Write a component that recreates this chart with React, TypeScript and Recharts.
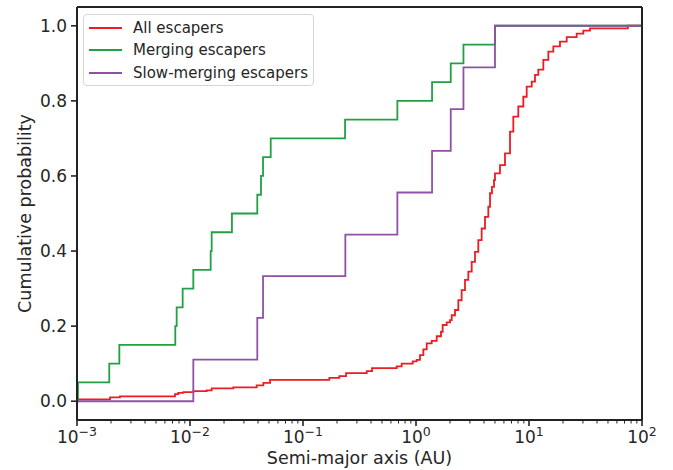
import React from "react";
import { LineChart, Line, XAxis, YAxis, Legend } from "recharts";

// semi-major axis (AU) at each step, and cumulative probability after it
const allA = [
  0.001, 0.00196, 0.0024, 0.00736, 0.00787, 0.00873, 0.0107, 0.01406, 0.01556, 0.02415,
  0.0389, 0.0446, 0.0511, 0.171, 0.2096, 0.2404, 0.3664, 0.4083, 0.6749, 0.7468,
  0.935, 1.014, 1.085, 1.161, 1.244, 1.377, 1.525, 1.664, 1.722, 1.869,
  2.0, 2.07, 2.214, 2.368, 2.535, 2.714, 2.904, 3.111, 3.327, 3.559,
  3.811, 4.08, 4.365, 4.519, 4.7, 4.9, 5.0, 5.535, 6.131, 6.792,
  7.263, 8.04, 8.905, 9.54, 10.57, 11.3, 12.09, 13.39, 14.83, 16.42,
  18.8, 21.56, 26.43, 30.25, 34.67, 75, 100,
];
const allP = [
  0.005, 0.01, 0.013, 0.019, 0.022, 0.024, 0.027, 0.029, 0.034, 0.037,
  0.042, 0.049, 0.057, 0.062, 0.067, 0.075, 0.08, 0.088, 0.093, 0.1,
  0.106, 0.11, 0.123, 0.138, 0.154, 0.161, 0.173, 0.185, 0.203, 0.21,
  0.216, 0.229, 0.243, 0.269, 0.296, 0.323, 0.345, 0.371, 0.398, 0.429,
  0.46, 0.491, 0.518, 0.554, 0.571, 0.589, 0.607, 0.629, 0.66, 0.718,
  0.758, 0.785, 0.811, 0.838, 0.851, 0.869, 0.883, 0.909, 0.931, 0.945,
  0.958, 0.97, 0.979, 0.987, 0.993, 1.0, 1.0,
];

const mergingA = [
  0.001, 0.00102, 0.00193, 0.00237, 0.00741, 0.00762, 0.00861, 0.0107, 0.01524, 0.01555,
  0.0235, 0.0394, 0.0425, 0.0443, 0.0518, 0.2356, 0.684, 1.387, 2.03, 2.63, 5.0, 100,
];
const mergingP = [
  0, 0.05, 0.1, 0.15, 0.2, 0.25, 0.3, 0.35, 0.4, 0.45,
  0.5, 0.55, 0.6, 0.65, 0.7, 0.75, 0.8, 0.85, 0.9, 0.95, 1.0, 1.0,
];

const slowA = [0.001, 0.0107, 0.0394, 0.0443, 0.237, 0.684, 1.387, 2.03, 2.63, 5.0, 100];
const slowP = [0, 0.111, 0.222, 0.333, 0.444, 0.556, 0.667, 0.778, 0.889, 1.0, 1.0];

const majorTicks = [0.001, 0.01, 0.1, 1, 10, 100];
const minorMult = [2, 3, 4, 5, 6, 7, 8, 9];
const yTicks = [0, 0.2, 0.4, 0.6, 0.8, 1.0];

const FONT = "'DejaVu Sans', sans-serif";
const INK = "#262626";

const toRows = (xs: number[], ps: number[]) => xs.map((a, i) => ({ a, p: ps[i] }));
const allData = toRows(allA, allP);
const mergingData = toRows(mergingA, mergingP);
const slowData = toRows(slowA, slowP);

const xTicks = [
  ...majorTicks,
  ...majorTicks.slice(0, -1).flatMap((d) => minorMult.map((m) => m * d)),
].sort((a, b) => a - b);

const XTick = (props: any) => {
  const { x, y, payload } = props;
  const lg = Math.log10(payload.value);
  const exp = Math.round(lg);
  const major = Math.abs(lg - exp) < 1e-6;
  if (!major) {
    return <line x1={x} x2={x} y1={y} y2={y + 3.5} stroke="#222" strokeWidth={1} />;
  }
  return (
    <g>
      <line x1={x} x2={x} y1={y} y2={y + 6} stroke="#222" strokeWidth={1.6} />
      <text x={x} y={y + 23} textAnchor="middle" fill={INK} fontFamily={FONT} fontSize={17}>
        <tspan>10</tspan>
        <tspan dy={-7} fontSize={12.5}>{exp < 0 ? "\u2212" + -exp : String(exp)}</tspan>
      </text>
    </g>
  );
};

const XLabel = ({ viewBox }: any) => (
  <text
    x={viewBox.x + viewBox.width / 2}
    y={viewBox.y + 44}
    textAnchor="middle"
    fill={INK}
    fontFamily={FONT}
    fontSize={17.5}
  >
    Semi-major axis (AU)
  </text>
);

const YLabel = ({ viewBox }: any) => {
  const cx = viewBox.x + 25;
  const cy = viewBox.y + viewBox.height / 2;
  return (
    <text
      x={cx}
      y={cy}
      transform={`rotate(-90, ${cx}, ${cy})`}
      textAnchor="middle"
      dominantBaseline="central"
      fill={INK}
      fontFamily={FONT}
      fontSize={17.5}
    >
      Cumulative probability
    </text>
  );
};

const LegendBox = ({ payload }: any) => (
  <div
    style={{
      width: 231,
      height: 72,
      boxSizing: "border-box",
      border: "1px solid #d6d6d6",
      borderRadius: 4,
      background: "rgba(255,255,255,0.8)",
      paddingTop: 1.5,
      fontFamily: FONT,
      fontSize: 15,
      color: INK,
    }}
  >
    {(payload || []).map((item: any) => (
      <div key={item.value} style={{ display: "flex", alignItems: "center", height: 22.5 }}>
        <div style={{ marginLeft: 5, width: 33, height: 2, background: item.color }} />
        <span style={{ marginLeft: 11, whiteSpace: "nowrap" }}>{item.value}</span>
      </div>
    ))}
  </div>
);

export default function App() {
  return (
    <div style={{ position: "absolute", left: 0, top: 0, background: "#fff" }}>
      <LineChart width={673} height={470} margin={{ top: 6, right: 30, bottom: 0, left: 0 }}>
        <XAxis
          dataKey="a"
          type="number"
          scale="log"
          domain={[0.001, 100]}
          allowDataOverflow
          ticks={xTicks}
          interval={0}
          tick={<XTick />}
          tickLine={false}
          tickSize={0}
          tickMargin={0}
          height={50}
          axisLine={{ stroke: "#222", strokeWidth: 2 }}
          label={<XLabel />}
        />
        <XAxis
          xAxisId="top"
          dataKey="a"
          type="number"
          scale="log"
          domain={[0.001, 100]}
          allowDataOverflow
          orientation="top"
          ticks={majorTicks}
          height={1}
          tick={false}
          tickLine={false}
          axisLine={{ stroke: "#222", strokeWidth: 2 }}
        />
        <YAxis
          type="number"
          domain={[-0.05, 1.05]}
          allowDataOverflow
          ticks={yTicks}
          interval={0}
          width={77}
          tickSize={6}
          tickMargin={4}
          tickFormatter={(v: number) => v.toFixed(1)}
          tick={{ fill: INK, fontSize: 17, fontFamily: FONT }}
          tickLine={{ stroke: "#222", strokeWidth: 1.6 }}
          axisLine={{ stroke: "#222", strokeWidth: 2 }}
          label={<YLabel />}
        />
        <YAxis
          yAxisId="right"
          orientation="right"
          type="number"
          domain={[-0.05, 1.05]}
          allowDataOverflow
          ticks={yTicks}
          width={1}
          tick={false}
          tickLine={false}
          axisLine={{ stroke: "#222", strokeWidth: 2 }}
        />
        <Legend
          layout="vertical"
          align="center"
          verticalAlign="middle"
          wrapperStyle={{ left: 83, top: 14, width: 231, height: 72 }}
          content={<LegendBox />}
        />
        <Line
          data={allData}
          dataKey="p"
          name="All escapers"
          type="stepAfter"
          stroke="#ec1c24"
          strokeWidth={1.8}
          dot={false}
          isAnimationActive={false}
        />
        <Line
          data={mergingData}
          dataKey="p"
          name="Merging escapers"
          type="stepAfter"
          stroke="#21a045"
          strokeWidth={1.8}
          dot={false}
          isAnimationActive={false}
        />
        <Line
          data={slowData}
          dataKey="p"
          name="Slow-merging escapers"
          type="stepAfter"
          stroke="#9150a6"
          strokeWidth={1.8}
          dot={false}
          isAnimationActive={false}
        />
      </LineChart>
    </div>
  );
}
